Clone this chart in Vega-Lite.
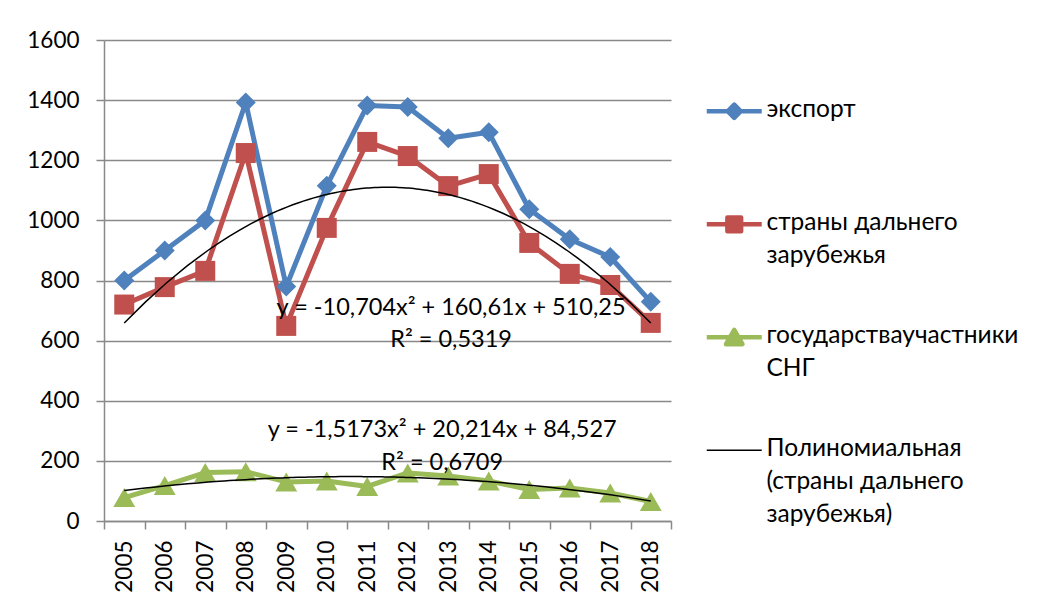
{
  "$schema": "https://vega.github.io/schema/vega-lite/v6.json",
  "width": 567,
  "height": 481,
  "autosize": {"type": "none"},
  "padding": {"left": 104, "top": 40, "right": 372, "bottom": 83},
  "background": "white",
  "config": {"view": {"stroke": null}, "font": "Lato"},
  "datasets": {
    "main": [
      {"year": 2005, "series": "экспорт", "value": 800},
      {"year": 2006, "series": "экспорт", "value": 900},
      {"year": 2007, "series": "экспорт", "value": 1000},
      {"year": 2008, "series": "экспорт", "value": 1392},
      {"year": 2009, "series": "экспорт", "value": 780},
      {"year": 2010, "series": "экспорт", "value": 1115},
      {"year": 2011, "series": "экспорт", "value": 1382},
      {"year": 2012, "series": "экспорт", "value": 1377},
      {"year": 2013, "series": "экспорт", "value": 1273},
      {"year": 2014, "series": "экспорт", "value": 1293},
      {"year": 2015, "series": "экспорт", "value": 1037},
      {"year": 2016, "series": "экспорт", "value": 937},
      {"year": 2017, "series": "экспорт", "value": 878},
      {"year": 2018, "series": "экспорт", "value": 729},
      {"year": 2005, "series": "страны дальнего зарубежья", "value": 720},
      {"year": 2006, "series": "страны дальнего зарубежья", "value": 778},
      {"year": 2007, "series": "страны дальнего зарубежья", "value": 832},
      {"year": 2008, "series": "страны дальнего зарубежья", "value": 1224},
      {"year": 2009, "series": "страны дальнего зарубежья", "value": 649},
      {"year": 2010, "series": "страны дальнего зарубежья", "value": 975},
      {"year": 2011, "series": "страны дальнего зарубежья", "value": 1261},
      {"year": 2012, "series": "страны дальнего зарубежья", "value": 1214},
      {"year": 2013, "series": "страны дальнего зарубежья", "value": 1114},
      {"year": 2014, "series": "страны дальнего зарубежья", "value": 1154},
      {"year": 2015, "series": "страны дальнего зарубежья", "value": 925},
      {"year": 2016, "series": "страны дальнего зарубежья", "value": 822},
      {"year": 2017, "series": "страны дальнего зарубежья", "value": 785},
      {"year": 2018, "series": "страны дальнего зарубежья", "value": 659},
      {"year": 2005, "series": "государстваучастники СНГ", "value": 78},
      {"year": 2006, "series": "государстваучастники СНГ", "value": 118},
      {"year": 2007, "series": "государстваучастники СНГ", "value": 161},
      {"year": 2008, "series": "государстваучастники СНГ", "value": 164},
      {"year": 2009, "series": "государстваучастники СНГ", "value": 130},
      {"year": 2010, "series": "государстваучастники СНГ", "value": 133},
      {"year": 2011, "series": "государстваучастники СНГ", "value": 115},
      {"year": 2012, "series": "государстваучастники СНГ", "value": 160},
      {"year": 2013, "series": "государстваучастники СНГ", "value": 150},
      {"year": 2014, "series": "государстваучастники СНГ", "value": 133},
      {"year": 2015, "series": "государстваучастники СНГ", "value": 105},
      {"year": 2016, "series": "государстваучастники СНГ", "value": 110},
      {"year": 2017, "series": "государстваучастники СНГ", "value": 93},
      {"year": 2018, "series": "государстваучастники СНГ", "value": 65}
    ],
    "labels": [
      {"year": 2013.07, "value": 708, "t": "y = -10,704x² + 160,61x + 510,25"},
      {"year": 2013.07, "value": 602, "t": "R² = 0,5319"},
      {"year": 2012.85, "value": 303, "t": "y = -1,5173x² + 20,214x + 84,527"},
      {"year": 2012.85, "value": 193, "t": "R² = 0,6709"}
    ]
  },
  "data": {"name": "main"},
  "layer": [
    {
      "mark": {"type": "line", "strokeWidth": 5, "strokeJoin": "round"},
      "encoding": {
        "x": {
          "field": "year", "type": "quantitative",
          "scale": {"domain": [2004.5, 2018.5], "nice": false, "zero": false},
          "axis": {
            "orient": "bottom",
            "values": [2005, 2006, 2007, 2008, 2009, 2010, 2011, 2012, 2013, 2014, 2015, 2016, 2017, 2018],
            "format": "d", "labelAngle": -90, "labelAlign": "right", "labelBaseline": "middle",
            "ticks": false, "tickSize": 0, "grid": false,
            "domainColor": "#898989", "domainWidth": 1.5,
            "labelFont": "Lato", "labelFontSize": 22.5, "labelColor": "#000000",
            "labelPadding": 19, "labelFlush": false, "labelOverlap": false, "title": null
          }
        },
        "y": {
          "field": "value", "type": "quantitative",
          "scale": {"domain": [0, 1600], "nice": false},
          "axis": {
            "values": [0, 200, 400, 600, 800, 1000, 1200, 1400, 1600],
            "format": "d",
            "grid": true, "gridColor": "#898989", "gridWidth": 1.5,
            "domainColor": "#898989", "domainWidth": 1.5,
            "tickColor": "#898989", "tickWidth": 1.5, "tickSize": 8,
            "labelFont": "Lato", "labelFontSize": 22.5, "labelColor": "#000000",
            "labelPadding": 17, "title": null
          }
        },
        "color": {
          "field": "series", "type": "nominal",
          "scale": {
            "domain": ["экспорт", "страны дальнего зарубежья", "государстваучастники СНГ", "Полиномиальная (страны дальнего зарубежья)"],
            "range": ["#4F81BD", "#C0504D", "#9BBB59", "#000000"]
          },
          "legend": {
            "orient": "none", "legendX": 605, "legendY": 59, "padding": 0,
            "title": null, "symbolSize": 3025, "symbolStrokeWidth": 4.5,
            "symbolOffset": 13,
            "labelFont": "Lato", "labelFontSize": 24.5, "labelColor": "#000000",
            "labelOffset": 20, "labelBaseline": "top", "labelLimit": 400, "rowPadding": 22,
            "labelExpr": "datum.label === 'экспорт' ? ['экспорт', '', ''] : datum.label === 'страны дальнего зарубежья' ? ['страны дальнего', 'зарубежья', ''] : datum.label === 'государстваучастники СНГ' ? ['государстваучастники', 'СНГ', ''] : ['Полиномиальная', '(страны дальнего', 'зарубежья)']",
            "encode": {
              "symbols": {
                "update": {
                  "shape": {"signal": "datum.value === 'экспорт' ? 'M-1,0H1M0,-0.24L0.24,0L0,0.24L-0.24,0Z' : datum.value === 'страны дальнего зарубежья' ? 'M-1,0H1M-0.25,-0.25H0.25V0.25H-0.25Z' : datum.value === 'государстваучастники СНГ' ? 'M-1,0H1M0,-0.27L0.3,0.25H-0.3Z' : 'M-1,0H1'"},
                  "fill": {"signal": "datum.value === 'экспорт' ? '#4F81BD' : datum.value === 'страны дальнего зарубежья' ? '#C0504D' : datum.value === 'государстваучастники СНГ' ? '#9BBB59' : '#000000'"},
                  "stroke": {"signal": "datum.value === 'экспорт' ? '#4F81BD' : datum.value === 'страны дальнего зарубежья' ? '#C0504D' : datum.value === 'государстваучастники СНГ' ? '#9BBB59' : '#000000'"},
                  "strokeWidth": {"signal": "datum.value === 'Полиномиальная (страны дальнего зарубежья)' ? 1.5 : 4.5"},
                  "strokeJoin": {"value": "round"},
                  "opacity": {"value": 1},
                  "fillOpacity": {"value": 1}
                }
              },
              "labels": {
                "update": {
                  "dy": {"value": -13},
                  "lineHeight": {"value": 33}
                }
              }
            }
          }
        }
      }
    },
    {
      "mark": {"type": "point", "filled": true, "opacity": 1, "strokeWidth": 0},
      "encoding": {
        "x": {
          "field": "year", "type": "quantitative",
          "axis": {
            "orient": "bottom",
            "values": [2004.5, 2005.5, 2006.5, 2007.5, 2008.5, 2009.5, 2010.5, 2011.5, 2012.5, 2013.5, 2014.5, 2015.5, 2016.5, 2017.5, 2018.5],
            "labels": false, "domain": false, "grid": false, "ticks": true,
            "tickSize": 8, "tickColor": "#898989", "tickWidth": 1.5, "title": null
          }
        },
        "y": {"field": "value", "type": "quantitative"},
        "color": {"field": "series", "type": "nominal"},
        "shape": {
          "field": "series", "type": "nominal",
          "scale": {"domain": ["экспорт", "страны дальнего зарубежья", "государстваучастники СНГ"], "range": ["diamond", "square", "triangle-up"]},
          "legend": null
        },
        "size": {"condition": {"test": "datum.series === 'государстваучастники СНГ'", "value": 480}, "value": 400}
      }
    },
    {
      "transform": [
        {"filter": {"field": "series", "oneOf": ["страны дальнего зарубежья", "государстваучастники СНГ"]}},
        {"regression": "value", "on": "year", "method": "poly", "order": 2, "groupby": ["series"]}
      ],
      "mark": {"type": "line", "color": "#000000", "strokeWidth": 1.5},
      "encoding": {
        "x": {"field": "year", "type": "quantitative", "axis": null},
        "y": {"field": "value", "type": "quantitative"},
        "detail": {"field": "series"}
      }
    },
    {
      "data": {"name": "labels"},
      "mark": {"type": "text", "font": "Lato", "fontSize": 23.5, "color": "#000000", "align": "center", "baseline": "middle"},
      "encoding": {
        "x": {"field": "year", "type": "quantitative", "axis": null},
        "y": {"field": "value", "type": "quantitative"},
        "text": {"field": "t"}
      }
    }
  ],
  "resolve": {"axis": {"x": "independent"}}
}
